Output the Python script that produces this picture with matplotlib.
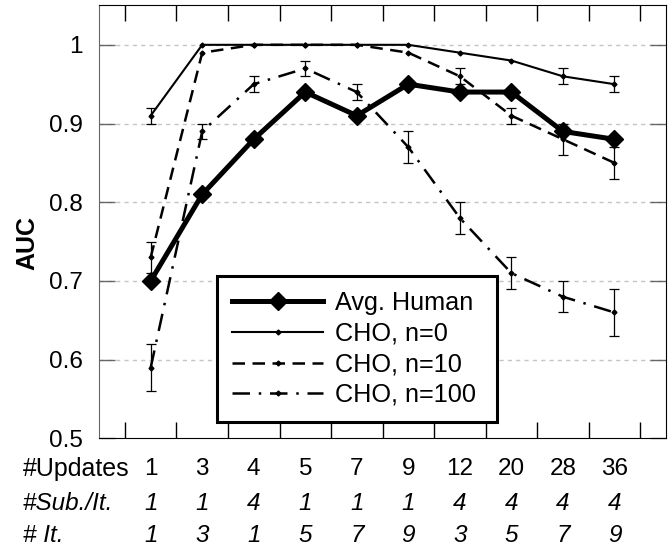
import matplotlib.pyplot as plt
import matplotlib.transforms as mtransforms
import numpy as np

plt.rcParams['font.family'] = ['Liberation Sans', 'DejaVu Sans']

# column labels under the axis
updates = ['1', '3', '4', '5', '7', '9', '12', '20', '28', '36']
sub_per_it = ['1', '1', '4', '1', '1', '1', '4', '4', '4', '4']
n_it = ['1', '3', '1', '5', '7', '9', '3', '5', '7', '9']

# AUC values
human = [0.70, 0.81, 0.88, 0.94, 0.91, 0.95, 0.94, 0.94, 0.89, 0.88]
cho0 = [0.91, 1.00, 1.00, 1.00, 1.00, 1.00, 0.99, 0.98, 0.96, 0.95]
cho0_err = [0.01, 0, 0, 0, 0, 0, 0, 0, 0.01, 0.01]
cho10 = [0.73, 0.99, 1.00, 1.00, 1.00, 0.99, 0.96, 0.91, 0.88, 0.85]
cho10_err = [0.02, 0, 0, 0, 0, 0, 0.01, 0.01, 0.02, 0.02]
cho100 = [0.59, 0.89, 0.95, 0.97, 0.94, 0.87, 0.78, 0.71, 0.68, 0.66]
cho100_err = [0.03, 0.01, 0.01, 0.01, 0.01, 0.02, 0.02, 0.02, 0.02, 0.03]

x = np.arange(1, len(updates) + 1)
fs = 17.5

fig = plt.figure(figsize=(6.7, 5.46), dpi=100)
ax = fig.add_axes([0.148, 0.197, 0.846, 0.793])

for v in [0.6, 0.7, 0.8, 0.9, 1.0]:
    ax.axhline(v, color='#c4c4c4', lw=1, ls=(0, (3, 3)), zorder=0)

ax.plot(x, human, color='k', lw=3.6, marker='D', ms=9, label='Avg. Human', zorder=5)
ax.plot(x, cho0, color='k', lw=1.5, marker='D', ms=2.5, label='CHO, n=0', zorder=4)
ax.plot(x, cho10, color='k', lw=1.8, ls=(0, (5, 3)), marker='D', ms=2.5,
        label='CHO, n=10', zorder=4)
ax.plot(x, cho100, color='k', lw=1.8, ls=(0, (7, 3.5, 1, 3.5)), marker='D', ms=2.5,
        label='CHO, n=100', zorder=4)

for y, e in [(cho0, cho0_err), (cho10, cho10_err), (cho100, cho100_err)]:
    y = np.array(y)
    e = np.array(e)
    m = e > 0
    ax.errorbar(x[m], y[m], yerr=e[m], fmt='none', ecolor='k', elinewidth=0.9,
                capsize=3.5, capthick=0.9, zorder=6)

ax.set_xlim(0, 11)
ax.set_ylim(0.5, 1.05)
ax.set_xticks(np.arange(0.5, 11, 1))
ax.tick_params(axis='x', direction='in', length=11.5, width=1, top=True,
               bottom=True, labelbottom=False)
ax.set_yticks([0.5, 0.6, 0.7, 0.8, 0.9, 1.0])
ax.set_yticklabels(['0.5', '0.6', '0.7', '0.8', '0.9', '1'], fontsize=fs)
ax.tick_params(axis='y', direction='in', length=11.5, width=1, left=True,
               right=True, color='#666666', pad=12)
ax.spines['left'].set_color('#666666')

trans = mtransforms.blended_transform_factory(ax.transData, ax.transAxes)
for i in range(len(x)):
    ax.text(x[i], -0.07, updates[i], transform=trans, ha='center', va='center', fontsize=fs)
    ax.text(x[i], -0.15, sub_per_it[i], transform=trans, ha='center', va='center',
            fontsize=fs, style='italic')
    ax.text(x[i], -0.224, n_it[i], transform=trans, ha='center', va='center',
            fontsize=fs, style='italic')

fig.text(23 / 670, 1 - 469 / 546, '#Updates', ha='left', va='center', fontsize=fs + 0.5)
fig.text(23 / 670, 1 - 503 / 546, '#Sub./It.', ha='left', va='center', fontsize=fs,
         style='italic')
fig.text(23 / 670, 1 - 535 / 546, '# It.', ha='left', va='center', fontsize=fs,
         style='italic')
fig.text(27 / 670, 1 - 243 / 546, 'AUC', rotation=90, ha='center', va='center',
         fontsize=fs + 0.5, weight='bold')

leg = ax.legend(loc='lower left', bbox_to_anchor=(0.208, 0.0376, 0.494, 0.3),
                mode='expand', frameon=True,
                fancybox=False, edgecolor='k', framealpha=1, handlelength=3.6,
                handletextpad=0.45, labelspacing=0.26, borderpad=0.6,
                borderaxespad=0, fontsize=18.2)
leg.get_frame().set_linewidth(2.2)
leg.set_zorder(10)

fig.savefig('out.png', dpi=100)
